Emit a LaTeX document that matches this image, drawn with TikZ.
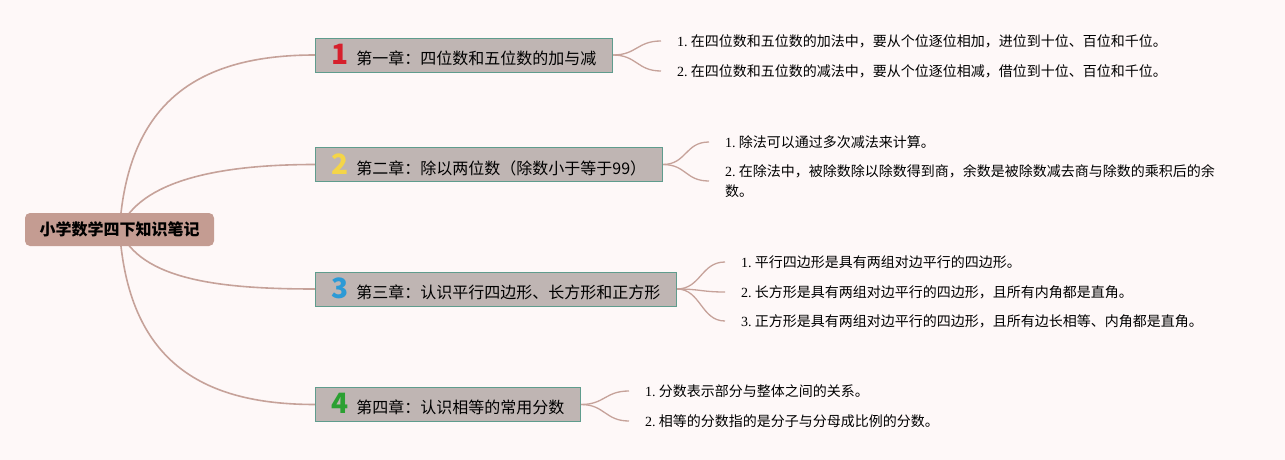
\documentclass[tikz,border=0pt]{standalone}
\usepackage{fontspec}
\setmainfont{Noto Sans CJK SC}
\newfontfamily\ptfont{Liberation Serif}
\usetikzlibrary{backgrounds}
\definecolor{paper}{HTML}{FEF8F8}
\definecolor{branch}{HTML}{C6A29A}
\definecolor{rootfill}{HTML}{C49C92}
\definecolor{chapfill}{HTML}{BFB5B3}
\definecolor{chapline}{HTML}{5F9C8D}
\definecolor{numred}{HTML}{D6202C}
\definecolor{numyellow}{HTML}{F4D548}
\definecolor{numblue}{HTML}{2C9AD6}
\definecolor{numgreen}{HTML}{2BA032}
\newcommand\chapno[2]{{\fontsize{28}{28}\selectfont\bfseries\color{#1}#2}\hspace{8pt}}
\newcommand\ptno[1]{{\ptfont #1.}~}

\begin{document}
\begin{tikzpicture}[x=1pt,y=-1pt,
  rootbox/.style={fill=rootfill,rounded corners=5pt,minimum width=189pt,minimum height=33pt,font=\fontsize{16}{18}\selectfont\bfseries},
  chapbox/.style={anchor=west,fill=chapfill,draw=chapline,line width=0.8pt,minimum height=34pt,inner xsep=16pt,font=\fontsize{16}{18}\selectfont},
  leaf/.style={anchor=west,inner xsep=16pt,inner ysep=1pt,align=left,font=\fontsize{14}{20}\selectfont},
  link/.style={branch,line width=1.6pt}]
\useasboundingbox (0,0) rectangle (1285,460);
\node[rootbox] (root) at (119.5,229.5) {小学数学四下知识笔记};
% chapters
\node[chapbox] (c1) at (315,55) {\chapno{numred}{1}第一章：四位数和五位数的加与减};
\node[chapbox] (c2) at (315,164.5) {\chapno{numyellow}{2}第二章：除以两位数（除数小于等于99）};
\node[chapbox] (c3) at (315,289) {\chapno{numblue}{3}第三章：认识平行四边形、长方形和正方形};
\node[chapbox] (c4) at (315,404.5) {\chapno{numgreen}{4}第四章：认识相等的常用分数};
% notes
\node[leaf] (n11) at (661,41) {\ptno{1}在四位数和五位数的加法中，要从个位逐位相加，进位到十位、百位和千位。};
\node[leaf] (n12) at (661,71) {\ptno{2}在四位数和五位数的减法中，要从个位逐位相减，借位到十位、百位和千位。};
\node[leaf] (n21) at (709,142) {\ptno{1}除法可以通过多次减法来计算。};
\node[leaf] (n22) at (709,181) {\ptno{2}在除法中，被除数除以除数得到商，余数是被除数减去商与除数的乘积后的余\\数。};
\node[leaf] (n31) at (725,262) {\ptno{1}平行四边形是具有两组对边平行的四边形。};
\node[leaf] (n32) at (725,292) {\ptno{2}长方形是具有两组对边平行的四边形，且所有内角都是直角。};
\node[leaf] (n33) at (725,321) {\ptno{3}正方形是具有两组对边平行的四边形，且所有边长相等、内角都是直角。};
\node[leaf] (n41) at (629,391) {\ptno{1}分数表示部分与整体之间的关系。};
\node[leaf] (n42) at (629,421) {\ptno{2}相等的分数指的是分子与分母成比例的分数。};
\begin{scope}[on background layer]
\fill[paper] (0,0) rectangle (1285,460);
\draw[link] (root.center) .. controls (128,100) and (200,55) .. (c1.west);
\draw[link] (root.center) .. controls (140,180) and (220,164.5) .. (c2.west);
\draw[link] (root.center) .. controls (140,280) and (220,289) .. (c3.west);
\draw[link] (root.center) .. controls (128,360) and (200,404.5) .. (c4.west);
\foreach \c/\n in {c1/n11,c1/n12,c2/n21,c2/n22,c3/n31,c3/n32,c3/n33,c4/n41,c4/n42}
  \draw[link,line width=1.3pt] (\c.east) .. controls +(24,0) and +(-24,0) .. (\n.west);
\end{scope}
\end{tikzpicture}
\end{document}
